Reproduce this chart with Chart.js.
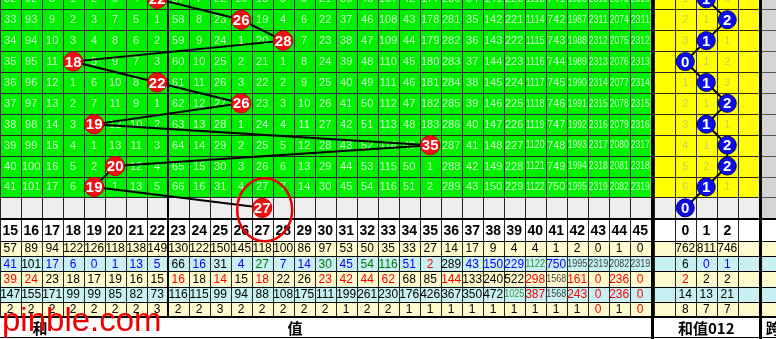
<!DOCTYPE html>
<html>
<head>
<meta charset="utf-8">
<script src="https://cdn.jsdelivr.net/npm/chart.js@4/dist/chart.umd.min.js"></script>
<style>
html, body { margin: 0; padding: 0; background: #fff; overflow: hidden; }
#wrap { position: relative; width: 776px; height: 339px; }
</style>
</head>
<body>
<div id="wrap"><canvas id="trend"></canvas></div>
<script>
// sum value columns and 012 columns
const sumCols = [15,16,17,18,19,20,21,22,23,24,25,26,27,28,29,30,31,32,33,34,35,36,37,38,39,40,41,42,43,44,45];
const modCols = [0,1,2];

// drawn results, top row first, and the predicted next one
const sumHits = [22,26,28,18,22,26,19,35,20,19];
const sumNext = 27;
const modHits = [1,2,1,0,1,2,1,2,2,1];
const modNext = 0;

// omission numbers shown in the cells (hit cell = 0, covered by the ball)
const sumMiss = [
  [32,92,8,1,2,6,4,0,57,7,22,16,18,3,5,21,36,45,107,42,177,280,34,141,220,1113,741,1986,2310,2073,2310],
  [33,93,9,2,3,7,5,1,58,8,23,0,19,4,6,22,37,46,108,43,178,281,35,142,221,1114,742,1987,2311,2074,2311],
  [34,94,10,3,4,8,6,2,59,9,24,1,20,0,7,23,38,47,109,44,179,282,36,143,222,1115,743,1988,2312,2075,2312],
  [35,95,11,0,5,9,7,3,60,10,25,2,21,1,8,24,39,48,110,45,180,283,37,144,223,1116,744,1989,2313,2076,2313],
  [36,96,12,1,6,10,8,0,61,11,26,3,22,2,9,25,40,49,111,46,181,284,38,145,224,1117,745,1990,2314,2077,2314],
  [37,97,13,2,7,11,9,1,62,12,27,0,23,3,10,26,41,50,112,47,182,285,39,146,225,1118,746,1991,2315,2078,2315],
  [38,98,14,3,0,12,10,2,63,13,28,1,24,4,11,27,42,51,113,48,183,286,40,147,226,1119,747,1992,2316,2079,2316],
  [39,99,15,4,1,13,11,3,64,14,29,2,25,5,12,28,43,52,114,49,0,287,41,148,227,1120,748,1993,2317,2080,2317],
  [40,100,16,5,2,0,12,4,65,15,30,3,26,6,13,29,44,53,115,50,1,288,42,149,228,1121,749,1994,2318,2081,2318],
  [41,101,17,6,0,1,13,5,66,16,31,4,27,7,14,30,45,54,116,51,2,289,43,150,229,1122,750,1995,2319,2082,2319]
];
const modMiss = [
  [1,0,3],[2,1,0],[3,0,1],[0,1,2],[1,0,3],[2,1,0],[3,0,1],[4,1,0],[5,2,0],[6,0,1]
];

// statistics rows under the chart
const sumTotal   = [57,89,94,122,126,118,138,149,130,122,150,145,118,100,86,97,53,50,35,33,27,14,17,9,4,4,1,2,0,1,0];
const sumCurMiss = [41,101,17,6,0,1,13,5,66,16,31,4,27,7,14,30,45,54,116,51,2,289,43,150,229,1122,750,1995,2319,2082,2319];
const sumAvgMiss = [39,24,23,18,17,19,16,15,16,18,14,15,18,22,26,23,42,44,62,68,85,144,133,240,522,298,1568,161,0,236,0];
const sumMaxMiss = [147,155,171,99,99,85,82,73,116,115,99,94,88,108,175,111,199,261,230,176,426,367,350,472,1025,387,1568,243,0,236,0];
const sumMaxRun  = [2,2,2,2,2,2,2,3,2,2,3,2,2,2,2,2,1,2,2,1,1,1,1,1,1,1,1,1,0,1,0];
const sumTones = [
  'kkkkkkkkkkkkkkkkkkkkkkkkkkkkkkk',
  'bkbbbbbbkbkbgbbgbggbrkbbbgbkkkk',
  'rrkkkkkkrkrkrkkrrrrkkrkkkrkrrrr',
  'kkkkkkkkkkkkkkkkkkkkkkkkgrkrrrr',
  'kkkkkkkkkkkkkkkkkkkkkkkkkkkkrkr'
];
const modTotal   = [762,811,746];
const modCurMiss = [6,0,1];
const modAvgMiss = [2,2,2];
const modMaxMiss = [14,13,21];
const modMaxRun  = [8,7,7];
const modTones = ['kkk','kbb','rkk','kkk','kkk'];

const toneColor = { k: '#000000', b: '#0000ff', g: '#007a00', r: '#ff0000' };

const gridPlugin = {
  id: 'trendGrid',
  beforeDatasetsDraw(chart) {
    const { ctx } = chart;
    const { x, x2, y, y2 } = chart.scales;
    const W = chart.width, H = chart.height;
    const L = c => x.getPixelForValue(c - 0.5), R = c => x.getPixelForValue(c + 0.5);
    const mL = c => x2.getPixelForValue(c - 0.5), mR = c => x2.getPixelForValue(c + 0.5);
    const B = r => y.getPixelForValue(r + 0.5), T = r => y.getPixelForValue(r - 0.5);
    const sT = k => y2.getPixelForValue(k - 0.5), sB = k => y2.getPixelForValue(k + 0.5);

    const first = sumCols[0], last = sumCols[sumCols.length - 1];
    const n = sumHits.length;
    const greenBot = B(n - 1), headTop = B(n), headBot = sT(0), statBot = sB(4);
    const panelL = mL(-1), panelR = mR(3);
    const statRows = [sumTotal, sumCurMiss, sumAvgMiss, sumMaxMiss, sumMaxRun];
    const modRows = [modTotal, modCurMiss, modAvgMiss, modMaxMiss, modMaxRun];

    ctx.save();
    ctx.fillStyle = '#fff';
    ctx.fillRect(0, 0, W, H);

    // backgrounds
    ctx.fillStyle = '#00f000';
    ctx.fillRect(L(first), 0, R(last) - L(first), greenBot);
    ctx.fillStyle = '#ffff00';
    ctx.fillRect(panelL, 0, panelR - panelL, greenBot);
    ctx.fillStyle = '#ededed';
    ctx.fillRect(L(first), T(n), panelR - L(first), headTop - T(n));
    ctx.fillStyle = '#d4d4d4';
    ctx.fillRect(panelR, 0, W - panelR, headTop);
    for (let k = 0; k < 5; k++) {
      ctx.fillStyle = k % 2 ? '#c8f0f2' : '#fffbcc';
      ctx.fillRect(0, sT(k), W, sB(k) - sT(k));
    }

    const hLine = (yy, x0, x1, col, w) => { ctx.fillStyle = col; ctx.fillRect(x0, Math.round(yy), x1 - x0, w || 1); };
    const vLine = (xx, y0, y1, col, w) => { ctx.fillStyle = col; ctx.fillRect(Math.round(xx), y0, w || 1, y1 - y0); };

    // row borders
    for (let r = 0; r < n; r++) {
      hLine(B(r), 0, panelR, '#262626');
      hLine(B(r), panelR, W, '#555');
    }
    for (let k = 0; k < 5; k++) hLine(sB(k), 0, W, '#000');
    hLine(headBot, 0, W, '#000');
    // column borders
    sumCols.forEach(c => vLine(L(c), 0, statBot, '#262626'));
    [-1, 0, 1, 2, 3].forEach(c => vLine(mL(c), 0, statBot, '#262626'));
    vLine(R(22) - 0.5, 0, statBot, '#000', 2);
    // thick borders
    hLine(headTop - 0.5, 0, W, '#000', 2);
    hLine(statBot - 0.5, 0, W, '#000', 2);
    hLine(H - 2, 0, W, '#000', 1);
    ctx.fillStyle = '#000';
    ctx.fillRect(Math.round(R(last)), 0, Math.round(panelL) - Math.round(R(last)), H);
    ctx.fillRect(Math.round(panelR), 0, 3, H);

    ctx.textAlign = 'center';
    ctx.textBaseline = 'middle';
    // omission numbers in the grid
    sumMiss.forEach((row, r) => {
      row.forEach((v, i) => {
        if (sumCols[i] === sumHits[r]) return;
        ctx.fillStyle = '#c8ffc8';
        const s = String(v);
        ctx.font = s.length > 3 ? '10px "Liberation Sans"' : '11px "Liberation Sans"';
        ctx.fillText(s, (L(sumCols[i]) + R(sumCols[i])) / 2, y.getPixelForValue(r) + 0.5, 19);
      });
    });
    ctx.font = '11px "Liberation Sans"';
    modMiss.forEach((row, r) => {
      row.forEach((v, i) => {
        if (modCols[i] === modHits[r]) return;
        ctx.fillStyle = '#cfcf55';
        ctx.fillText(String(v), x2.getPixelForValue(modCols[i]), y.getPixelForValue(r) + 0.5);
      });
    });

    // header
    const hy = (headTop + headBot) / 2 + 1;
    ctx.font = 'bold 14px "Liberation Sans"';
    ctx.fillStyle = '#000';
    sumCols.forEach(c => ctx.fillText(String(c), x.getPixelForValue(c), hy, 19));
    modCols.forEach(c => ctx.fillText(String(c), x2.getPixelForValue(c), hy, 19));

    // statistics
    statRows.forEach((row, k) => {
      const cy = y2.getPixelForValue(k) + 0.5;
      row.forEach((v, i) => {
        const s = String(v);
        ctx.font = s.length > 3 ? '10px "Liberation Sans"' : '12px "Liberation Sans"';
        ctx.fillStyle = toneColor[sumTones[k][i]];
        if (s.length > 3) ctx.globalAlpha = 0.75;
        ctx.fillText(s, x.getPixelForValue(sumCols[i]), cy, 20);
        ctx.globalAlpha = 1;
      });
    });
    ctx.font = '12px "Liberation Sans"';
    modRows.forEach((row, k) => {
      const cy = y2.getPixelForValue(k) + 0.5;
      row.forEach((v, i) => {
        ctx.fillStyle = toneColor[modTones[k][i]];
        ctx.fillText(String(v), x2.getPixelForValue(modCols[i]), cy, 20);
      });
    });

    // bottom label row
    const ly = (statBot + H) / 2;
    ctx.font = 'bold 15px "Noto Sans CJK SC"';
    ctx.fillStyle = '#000';
    ctx.fillText('和', 40, ly);
    ctx.fillText('值', 295, ly);
    ctx.fillText('和值012', x2.getPixelForValue(1), ly);
    ctx.textAlign = 'left';
    ctx.fillText('跨', panelR + 7, ly);
    ctx.restore();
  },
  afterDatasetsDraw(chart) {
    const { ctx } = chart;
    ctx.save();
    ctx.textAlign = 'center';
    ctx.textBaseline = 'middle';
    ctx.font = 'bold 15px "Liberation Sans"';
    ctx.fillStyle = '#fff';
    chart.data.datasets.forEach((ds, i) => {
      chart.getDatasetMeta(i).data.forEach((pt, j) => {
        ctx.fillText(String(ds.data[j].x), pt.x, pt.y + 1, 17);
      });
    });
    // ring around the predicted sum
    const meta = chart.getDatasetMeta(0);
    const p = meta.data[meta.data.length - 1];
    ctx.strokeStyle = '#e80000';
    ctx.lineWidth = 2.5;
    ctx.beginPath();
    ctx.ellipse(p.x + 2.5, p.y + 2, 27.5, 31.5, 0, 0, Math.PI * 2);
    ctx.stroke();
    ctx.restore();
  },
  afterDraw(chart) {
    const { ctx } = chart;
    ctx.save();
    ctx.font = '33px "Liberation Sans"';
    ctx.fillStyle = '#ee0000';
    ctx.textAlign = 'left';
    ctx.textBaseline = 'alphabetic';
    ctx.fillText('pinble.com', 2, 331);
    ctx.restore();
  }
};

const sumPoints = sumHits.concat([sumNext]).map((v, i) => ({ x: v, y: i }));
const modPoints = modHits.concat([modNext]).map((v, i) => ({ x: v, y: i }));

new Chart(document.getElementById('trend'), {
  type: 'line',
  data: {
    datasets: [{
      label: '和值',
      data: sumPoints,
      xAxisID: 'x',
      yAxisID: 'y',
      borderColor: '#000',
      borderWidth: 2,
      tension: 0,
      pointRadius: 9.6,
      pointBackgroundColor: '#ee1111',
      pointBorderColor: '#d00000',
      pointBorderWidth: 1,
      clip: false
    }, {
      label: '和值012',
      data: modPoints,
      xAxisID: 'x2',
      yAxisID: 'y',
      borderColor: '#000',
      borderWidth: 2,
      tension: 0,
      pointRadius: 9,
      pointBackgroundColor: '#0c0ce6',
      pointBorderColor: '#000090',
      pointBorderWidth: 1,
      clip: false
    }]
  },
  options: {
    responsive: true,
    maintainAspectRatio: false,
    animation: false,
    events: [],
    layout: { padding: 0, autoPadding: false },
    plugins: { legend: { display: false }, tooltip: { enabled: false } },
    scales: {
      x:  { type: 'linear', display: false, min: 14.516, max: 51.468 },
      x2: { type: 'linear', display: false, min: -32.63, max: 4.32 },
      y:  { type: 'linear', display: false, reverse: true, min: 0.055, max: 16.275 },
      y2: { type: 'linear', display: false, reverse: true, min: -16.355, max: 5.948 }
    }
  },
  plugins: [gridPlugin]
});
</script>
</body>
</html>
